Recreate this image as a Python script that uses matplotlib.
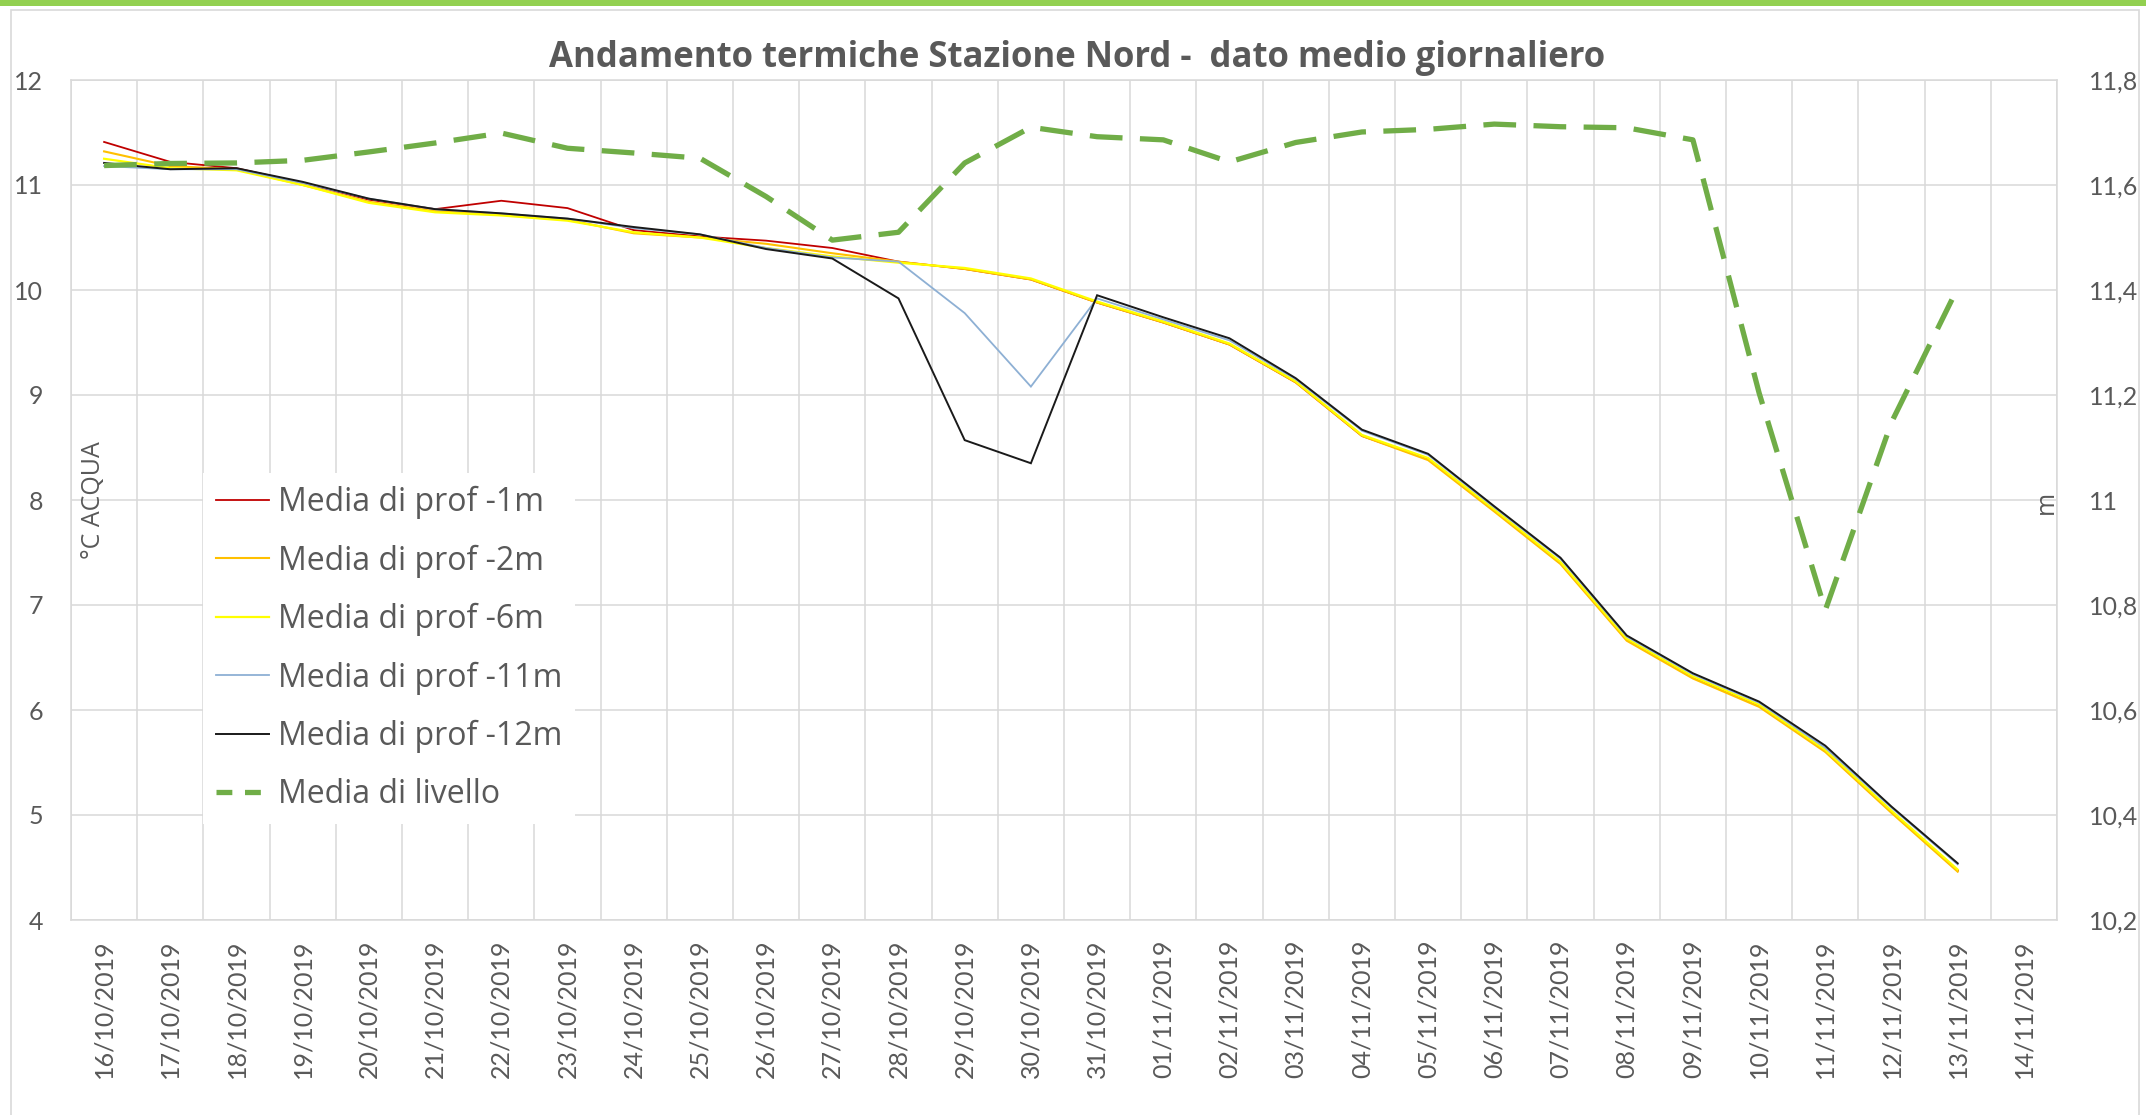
import matplotlib
matplotlib.use("Agg")
import matplotlib.pyplot as plt
import numpy as np
from matplotlib.patches import Rectangle
from matplotlib.lines import Line2D

plt.rcParams['font.family'] = ['Lato', 'DejaVu Sans']

# Daily dates on the category axis
dates = ["16/10/2019", "17/10/2019", "18/10/2019", "19/10/2019", "20/10/2019",
         "21/10/2019", "22/10/2019", "23/10/2019", "24/10/2019", "25/10/2019",
         "26/10/2019", "27/10/2019", "28/10/2019", "29/10/2019", "30/10/2019",
         "31/10/2019", "01/11/2019", "02/11/2019", "03/11/2019", "04/11/2019",
         "05/11/2019", "06/11/2019", "07/11/2019", "08/11/2019", "09/11/2019",
         "10/11/2019", "11/11/2019", "12/11/2019", "13/11/2019", "14/11/2019"]

# Mean daily water temperature (°C) at each depth (no data for the last day)
prof_1m = [11.41, 11.22, 11.16, 11.02, 10.86, 10.77, 10.85, 10.78, 10.57, 10.51,
           10.47, 10.40, 10.27, 10.20, 10.10, 9.88, 9.69, 9.48, 9.12, 8.61,
           8.39, 7.90, 7.40, 6.67, 6.31, 6.04, 5.61, 5.03, 4.47]
prof_2m = [11.32, 11.18, 11.15, 11.00, 10.84, 10.75, 10.72, 10.67, 10.54, 10.50,
           10.44, 10.35, 10.27, 10.20, 10.10, 9.88, 9.69, 9.48, 9.12, 8.61,
           8.38, 7.89, 7.39, 6.66, 6.30, 6.03, 5.60, 5.02, 4.46]
prof_6m = [11.25, 11.16, 11.14, 11.00, 10.83, 10.74, 10.71, 10.66, 10.55, 10.50,
           10.40, 10.32, 10.26, 10.21, 10.11, 9.89, 9.70, 9.49, 9.13, 8.62,
           8.40, 7.91, 7.41, 6.68, 6.32, 6.05, 5.62, 5.04, 4.48]
prof_11m = [11.18, 11.15, 11.15, 11.02, 10.87, 10.77, 10.73, 10.68, 10.59, 10.53,
            10.40, 10.31, 10.27, 9.78, 9.08, 9.92, 9.72, 9.52, 9.15, 8.66,
            8.43, 7.93, 7.44, 6.70, 6.34, 6.07, 5.64, 5.07, 4.53]
prof_12m = [11.21, 11.15, 11.16, 11.03, 10.87, 10.77, 10.73, 10.68, 10.60, 10.53,
            10.39, 10.30, 9.92, 8.57, 8.35, 9.95, 9.74, 9.54, 9.16, 8.67,
            8.44, 7.94, 7.45, 6.71, 6.35, 6.08, 5.66, 5.08, 4.54]

# Mean daily water level (m), secondary axis
livello = [11.637, 11.641, 11.642, 11.647, 11.663, 11.680, 11.699, 11.670, 11.661, 11.651,
           11.578, 11.495, 11.510, 11.642, 11.710, 11.692, 11.686, 11.644, 11.681, 11.701,
           11.706, 11.716, 11.711, 11.709, 11.686, 11.204, 10.790, 11.148, 11.404]

series_labels = ["Media di prof -1m", "Media di prof -2m", "Media di prof -6m",
                 "Media di prof -11m", "Media di prof -12m"]
level_label = "Media di livello"

left_ticks = [4, 5, 6, 7, 8, 9, 10, 11, 12]
right_ticks = [10.2, 10.4, 10.6, 10.8, 11.0, 11.2, 11.4, 11.6, 11.8]

TXT = '#595959'
GRID = '#D9D9D9'
W, H = 2146, 1115
WIDE = ['Open Sans', 'DejaVu Sans']


def padded(vals):
    out = np.full(len(dates), np.nan)
    out[:len(vals)] = vals
    return out


def comma(v):
    return ('%g' % round(v, 1)).replace('.', ',')


fig = plt.figure(figsize=(W / 100, H / 100), dpi=100)
fig.patch.set_facecolor('white')

# outer chart border and green top band
fig.patches.append(Rectangle((11 / W, -0.01), (2139 - 11) / W, (H - 10) / H + 0.01,
                             transform=fig.transFigure, fill=False,
                             edgecolor=GRID, lw=1.2, zorder=0))
fig.patches.append(Rectangle((0, 1 - 6 / H), 1, 6 / H, transform=fig.transFigure,
                             facecolor='#92D050', edgecolor='none', zorder=1))

ax = fig.add_axes([71 / W, (H - 920) / H, (2057 - 71) / W, 840 / H])
ax2 = ax.twinx()

x = np.arange(len(dates))
colors = ['#C00000', '#FFC000', '#FFFF00', '#8EB0D4', '#1A1A1A']
widths = [1.3, 1.5, 1.6, 1.3, 1.4]
handles = []
for vals, c, lw_, lab in zip([prof_1m, prof_2m, prof_6m, prof_11m, prof_12m],
                             colors, widths, series_labels):
    ln, = ax.plot(x, padded(vals), color=c, lw=lw_, label=lab,
                  solid_joinstyle='miter', zorder=3)
    handles.append(ln)

ax2.plot(x, padded(livello), color='#70AD47', lw=3.8, dashes=(6.2, 3.3),
         dash_capstyle='butt', label=level_label, zorder=4)

ax.set_xlim(-0.5, len(dates) - 0.5)
ax.set_ylim(4, 12)
ax2.set_ylim(10.2, 11.8)

ax.set_xticks(x)
ax.set_xticklabels(dates, rotation=90, fontsize=18, color=TXT)
ax.set_xticks(np.arange(-0.5, len(dates)), minor=True)
ax.set_yticks(left_ticks)
ax.set_yticklabels([str(t) for t in left_ticks], fontsize=18, color=TXT)
ax2.set_yticks(right_ticks)
ax2.set_yticklabels([comma(t) for t in right_ticks], fontsize=18, color=TXT)

ax.tick_params(axis='x', which='both', length=0, pad=14)
ax.tick_params(axis='y', length=0, pad=20)
ax2.tick_params(axis='y', length=0, pad=23)

ax.set_axisbelow(True)
ax.grid(axis='x', which='minor', color=GRID, lw=1.1)
ax.grid(axis='y', which='major', color=GRID, lw=1.1)
ax.grid(axis='x', which='major', visible=False)
for s in ax.spines.values():
    s.set_color(GRID)
    s.set_linewidth(1.1)
for s in ax2.spines.values():
    s.set_visible(False)

# axis titles placed inside the plot area
fig.text(93 / W, 1 - 500 / H, "°C ACQUA", rotation=90, ha='center', va='center',
         fontsize=18, color=TXT, family=WIDE)
fig.text(2046 / W, 1 - 502 / H, "m", rotation=90, ha='center', va='center',
         fontsize=18, color=TXT, family=WIDE)

fig.text(1077 / W, 1 - 58 / H, "Andamento termiche Stazione Nord -  dato medio giornaliero",
         ha='center', va='center', fontsize=25, fontweight='bold', color=TXT,
         family=WIDE)

level_proxy = Line2D([], [], color='#70AD47', lw=3.8, dashes=(3.0, 2.4),
                     dash_capstyle='butt')
leg = ax2.legend(handles + [level_proxy], series_labels + [level_label],
                 loc='upper left', bbox_to_anchor=(0.0665, 0.532),
                 prop={'family': WIDE, 'size': 23}, labelcolor=TXT,
                 frameon=True, facecolor='white',
                 edgecolor='none', framealpha=1, fancybox=False,
                 handlelength=1.65, handletextpad=0.3, labelspacing=0.79,
                 borderpad=0.4, borderaxespad=0)
leg.set_zorder(10)

fig.savefig("out.png", dpi=100, facecolor='white')
